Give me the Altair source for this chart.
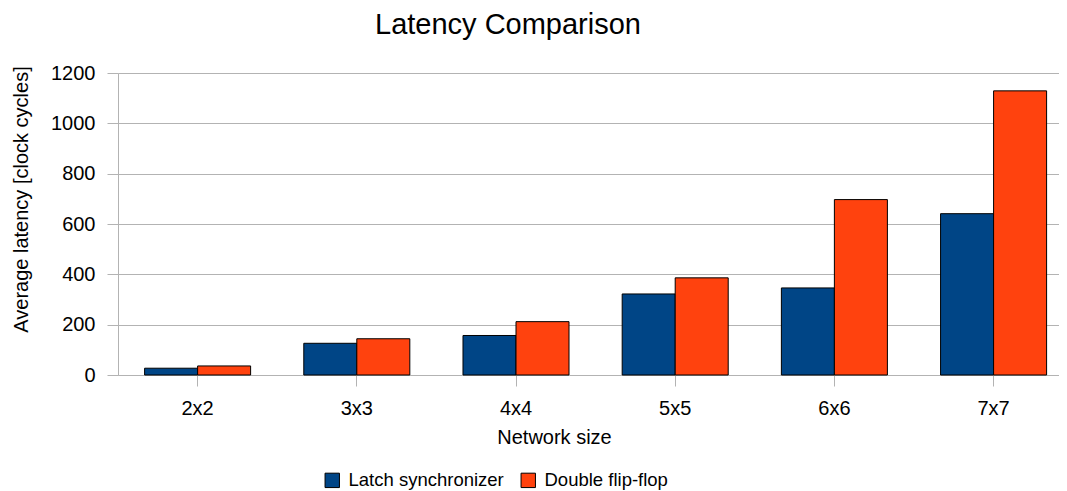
import altair as alt
import pandas as pd

sizes = ["2x2", "3x3", "4x4", "5x5", "6x6", "7x7"]
latch = [27, 126, 157, 322, 346, 641]
dff = [36, 144, 212, 386, 697, 1129]
series = ["Latch synchronizer", "Double flip-flop"]
colors = ["#004586", "#ff420e"]
y_ticks = [0, 200, 400, 600, 800, 1000, 1200]

rows = []
for i, s in enumerate(sizes):
    rows.append({"size": s, "series": series[0], "latency": latch[i]})
    rows.append({"size": s, "series": series[1], "latency": dff[i]})
df = pd.DataFrame(rows)

font = "Liberation Sans"
grey = "#b3b3b3"

chart = alt.Chart(df).mark_bar(stroke="black", strokeWidth=1).encode(
    x=alt.X(
        "size:N", sort=sizes,
        scale=alt.Scale(paddingInner=0.334, paddingOuter=0.1225, align=0.682),
        axis=alt.Axis(
            title="Network size", labelAngle=0, tickSize=11, labelPadding=12,
            titleX=436, titleY=52, grid=False, domainColor=grey, tickColor=grey,
            labelFontSize=20, titleFontSize=20, titleFontWeight="normal",
            labelColor="black", titleColor="black", labelFont=font, titleFont=font,
        ),
    ),
    xOffset=alt.XOffset("series:N", sort=series),
    y=alt.Y(
        "latency:Q", scale=alt.Scale(domain=[0, 1200]),
        axis=alt.Axis(
            values=y_ticks, format="d", title="Average latency [clock cycles]",
            tickSize=11, labelPadding=12, titleX=-87, titleY=126, grid=True,
            gridColor=grey, domainColor=grey, tickColor=grey, labelFontSize=20,
            titleFontSize=20, titleFontWeight="normal", labelColor="black",
            titleColor="black", labelFont=font, titleFont=font,
        ),
    ),
    color=alt.Color(
        "series:N", sort=series,
        scale=alt.Scale(domain=series, range=colors),
        legend=alt.Legend(
            title=None, orient="none", legendX=205, legendY=398,
            direction="horizontal", symbolType="square", symbolSize=207,
            symbolStrokeColor="black", symbolStrokeWidth=1, symbolOpacity=1,
            labelFontSize=18.5, labelOffset=7, columnPadding=15,
            labelFont=font, labelColor="black",
        ),
    ),
).properties(
    width=941,
    height=302,
    title=alt.TitleParams(
        "Latency Comparison", anchor="start", frame="group", dx=257, dy=-19,
        fontSize=29, fontWeight="normal", font=font, color="black",
    ),
    autosize=alt.AutoSizeParams(type="none"),
    padding={"left": 110, "top": 65, "right": 0, "bottom": 116},
).configure_view(stroke=None)

chart.save("out.html", embed_options={"renderer": "svg", "actions": False})
